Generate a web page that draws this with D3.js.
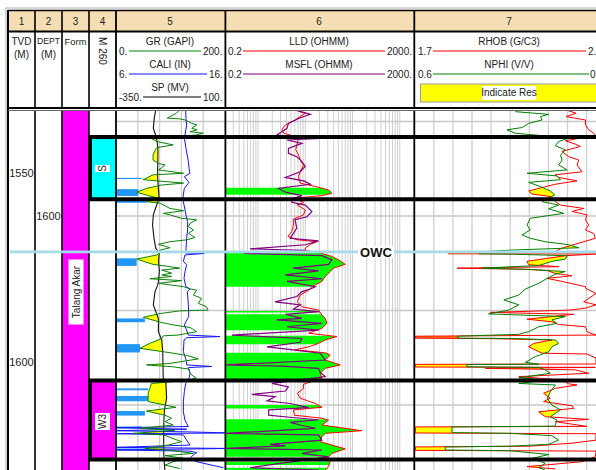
<!DOCTYPE html>
<html><head><meta charset="utf-8">
<script src="https://cdn.jsdelivr.net/npm/d3@7/dist/d3.min.js"></script>
<style>html,body{margin:0;padding:0;background:#fff}svg{display:block}text{font-family:"Liberation Sans",Arial,sans-serif;fill:#222}</style>
</head><body><svg id="c" width="596" height="470"></svg>
<script>
const tvdTicks=[1550,1600], deptTicks=[1600], tvdOffset=38.6;
const zoneNames=["S","W3"], zoneTops=[1579.1,1643.5], zoneBases=[1595.6,1664.4];
const owcDepth=1609.5;
const grDepth=[1571.9,1572.8,1574.1,1574.3,1574.6,1575.5,1575.9,1576.8,1577.2,1577.7,1578.1,1578.6,1579.4,1580.3,1581.2,1581.9,1582.5,1583.9,1585.2,1586.1,1586.5,1587.2,1587.8,1588.7,1589.1,1590.4,1590.7,1591.3,1591.8,1592.7,1593.7,1594.6,1595.3,1596.2,1596.6,1598,1598.6,1599.3,1599.7,1600.6,1601,1601.9,1602.8,1603.7,1604.6,1605.7,1606.3,1606.8,1607.5,1608.4,1609,1609.9,1610.3,1611.4,1612.8,1613.4,1613.8,1614.3,1615.1,1615.6,1616,1616.6,1617.1,1617.8,1618.7,1619.3,1619.6,1620.9,1621.8,1623.1,1624,1624.9,1625.1,1625.8,1626.8,1628.1,1628.8,1629.5,1630.6,1631.5,1631.7,1632.4,1633.7,1635,1636.3,1636.9,1637.8,1639,1639.4,1639.9,1640.5,1641.4,1642.1,1642.8,1643.4,1644.3,1645.6,1646.9,1649.1,1650,1650.6,1651.6,1652.7,1653.5,1654.4,1655.3,1656.2,1656.7,1657.5,1657.9,1659.7,1660.6,1661.5,1661.9,1662.8,1663.4,1664.1,1665,1665.9,1666.8];
const grValue=[117,111,94,117,127,139,148,139,149,136,160,147,64,75,105,75,72,68,68,78,90,84,78,124,68,50,75,124,84,56,38,59,78,56,81,99,124,87,99,120,148,136,133,142,133,145,130,99,78,99,81,78,75,38,68,99,117,84,102,84,102,62,120,78,124,136,148,142,157,151,166,169,117,81,50,81,105,136,148,114,87,84,62,44,105,130,151,99,56,105,133,136,139,147,136,65,62,59,59,90,110,56,90,102,90,105,44,108,32,87,120,96,53,93,142,90,124,105,90,117];
const caliDepth=[1571.9,1574.1,1575.9,1578.6,1579.4,1582.1,1585.6,1587.4,1588.7,1589.6,1591.1,1592.7,1594.9,1596.2,1599.7,1601.5,1603.7,1605.9,1609,1609.8,1609.9,1610.3,1612,1612.9,1614.7,1616.5,1618.7,1619.3,1620,1623.5,1626.6,1628.8,1630.2,1631.5,1631.9,1632.2,1632.8,1635.9,1638.5,1639.4,1639.8,1640.1,1641.6,1642.9,1644.3,1646.5,1649.1,1651.8,1654,1654.9,1655.7,1656,1656.4,1656.8,1657.1,1657.4,1657.6,1657.9,1659.3,1660.6,1661.2,1661.5,1661.9,1662.2,1662.6,1663.2,1664.1,1665,1666.6];
const caliValue=[12.39,12.42,12.48,12.33,12.27,12.42,12.64,12.7,12.79,12.27,12.7,12.27,12.15,12.18,12.42,12.57,12.57,12.48,12.42,12.42,14.1,12.33,12.18,12.48,12.33,12.24,12.42,12.79,12.54,12.64,12.67,12.27,12.48,12.64,15.54,12.48,12.24,12.18,12.48,12.48,14.78,12.64,12.79,12.7,12.39,12.27,12.18,12.18,12.33,12.48,12.64,6.06,12.48,6.06,12.48,16.46,6.06,12.18,12.48,12.79,6.06,16.46,6.06,12.79,13.4,13.09,12.79,13.4,15.85];
const spDepth=[1571.9,1574.1,1576.8,1578.1,1579.4,1582.1,1584.7,1587.4,1589.6,1592.7,1595.3,1597.1,1599.7,1602.4,1605.9,1608.5,1609.9,1612,1614.7,1617.3,1618.3,1620,1623.5,1627.1,1630.6,1632.8,1635.9,1639.4,1642.9,1644.3,1648.2,1650.9,1653.5,1657.1,1661.5,1664.4,1667.2];
const spValue=[-186,-192,-196,-189,-182,-177,-177,-178,-178,-175,-172,-182,-196,-199,-193,-186,-172,-174,-171,-175,-178,-189,-196,-175,-175,-161,-157,-156,-155,-144,-141,-149,-152,-153,-153,-152,-148];
const lldDepth=[1572.2,1572.8,1573.7,1574.6,1575.9,1577.2,1578.1,1578.6,1579.4,1581.2,1582.5,1583.9,1585.2,1586.5,1588.3,1589.6,1591.3,1592.2,1593.1,1594,1594.6,1595.3,1596.4,1597.1,1598.4,1599.7,1600.8,1602.4,1604.1,1605.4,1606.3,1606.8,1607.5,1608.5,1609.1,1609.9,1610.7,1611.6,1612.8,1613.8,1614.7,1616,1617.3,1618.7,1619.6,1620.9,1622.7,1624,1624.9,1626.2,1627.1,1628.4,1629.7,1631,1631.9,1632.8,1633.7,1634.6,1635.4,1636.2,1636.8,1638.1,1639.4,1640.3,1641.6,1642.9,1644.5,1645.6,1646.9,1648.2,1649.6,1650.6,1651.3,1652.7,1653.5,1654,1655.3,1656.8,1657.5,1658.4,1659.7,1660.6,1661.6,1662.8,1663.8,1665,1666.3,1667.2];
const lldValue=[6.8,10,7.8,6.1,3.8,3.2,3.5,4.8,7.2,6.6,6.3,7.2,7.8,9.2,7.8,7.2,7.8,16.3,31,36.5,22.5,6.1,9.2,6.8,10,9.2,5.6,5.6,5.2,4.3,6.8,17.6,12.8,10,10,22.5,36.5,50.6,70,39.6,33.7,26.5,22.5,13.8,11.8,7.8,6.8,8.5,19.1,22.5,26.5,28.7,22.5,11.8,46.6,26.5,19.1,11.8,6.1,26.5,33.7,26.5,55,26.5,20.7,22.5,9.2,9.2,6.8,7.8,16.3,22.5,5.6,5.9,22.5,31,22.5,157,26.5,22.5,20.7,36.5,70,36.5,31,33.7,31,26.5];
const msflDepth=[1572.2,1573.1,1574,1575.5,1576.8,1577.7,1578.6,1579.4,1579.9,1580.8,1582.1,1583.4,1584.3,1585.6,1586.9,1588.3,1589.8,1590.7,1591.6,1592.7,1593.7,1594.6,1595.3,1596.4,1597.1,1598.8,1600.2,1601,1603.2,1604.6,1605.9,1606.6,1607.6,1608.7,1609.1,1609.9,1610.5,1611.6,1612.8,1613.8,1614.5,1615.6,1616.6,1617.3,1618.7,1619.3,1620,1621.3,1622.7,1623.5,1624.6,1625.3,1626,1627.1,1627.5,1628.4,1629.3,1630.2,1631.5,1632.4,1633.4,1634.6,1635.4,1636.3,1638.1,1639.4,1639.7,1640.3,1641.4,1642.5,1642.9,1644.3,1645.2,1646.3,1647.2,1647.8,1648.9,1649.6,1650.7,1651.3,1652.7,1653.3,1653.9,1654.6,1655.3,1656.2,1657.5,1657.9,1659.3,1660.4,1660.8,1661.5,1661.9,1662.8,1663.7,1665.4,1666.6,1667.2];
const msflValue=[7.2,12.8,7.8,4.4,4.1,3.2,2.5,26.5,4.1,8.5,4.4,4.4,6.6,8.5,10,7.8,3.8,9.2,12.8,2.7,3.8,8.5,5.6,5.2,10,13.8,10.9,6.1,6.6,5.6,4.8,19.1,10,0.68,10,0.5,22.5,36.5,31,5.6,19.1,3.8,22.5,4.1,16.3,12.8,8.5,6.6,2.3,7.8,5.6,19.1,3.8,8.5,2.5,22.5,4.1,19.1,0.28,8.5,7.8,1.55,5.6,20.7,26.5,0.21,3.2,19.1,20.7,26.5,15,1.97,4.4,3.8,0.74,2.3,1.55,4.8,11.8,1.68,1.68,5.2,19.1,4.8,7.8,16.3,0.21,19.1,22.5,1.8,3.8,0.21,22.5,8.5,31,3.2,0.68,19.1];
const rhobDepth=[1572.2,1572.8,1573.7,1574.6,1575.9,1577.2,1578.1,1579,1579.4,1580.1,1581,1581.6,1582.9,1584.3,1585.2,1586.5,1588.3,1589.1,1589.8,1590.7,1591.6,1592.7,1593.4,1594.2,1594.9,1596.2,1597.1,1598,1598.8,1599.7,1601,1602.4,1603.7,1604.6,1605.9,1608.5,1609.4,1609.6,1610,1610.05,1610.5,1611.4,1612,1612.9,1613.4,1613.8,1614.1,1614.4,1615.2,1615.8,1616.5,1617.3,1618.7,1619.1,1620.5,1622.7,1623.5,1624.4,1624.9,1625.5,1626,1626.6,1627.3,1628,1628.7,1629.3,1630.6,1631.5,1631.8,1632.3,1632.45,1632.8,1633.7,1634.6,1636.3,1636.5,1637.6,1639.15,1639.25,1639.95,1640.05,1640.3,1640.7,1641.6,1642.5,1643.4,1644.4,1644.7,1645.6,1646.9,1648.2,1649.1,1650.2,1650.9,1651.8,1653.1,1653.8,1654.4,1655.65,1655.8,1657.4,1657.6,1658.1,1659.3,1660.1,1660.9,1661.1,1662,1662.2,1662.6,1663.7,1665,1666.3,1666.9];
const rhobValue=[2.506,2.545,2.492,2.594,2.594,2.611,2.637,2.649,2.567,2.489,2.541,2.567,2.471,2.506,2.559,2.55,2.576,2.436,2.454,2.55,2.436,2.349,2.297,2.314,2.419,2.436,2.463,2.585,2.524,2.602,2.594,2.611,2.594,2.637,2.646,2.471,2.436,1.875,1.875,2.649,2.489,2.367,2.288,2.297,2.454,1.922,2.279,2.393,2.436,2.524,2.393,2.471,2.594,2.594,2.649,2.585,2.649,2.594,2.506,2.096,2.532,2.419,2.288,2.419,2.454,2.594,2.602,2.649,1.703,1.703,2.114,2.419,2.323,2.297,2.367,2.602,2.649,2.649,1.703,1.703,2.646,2.07,2.541,2.611,2.245,2.471,2.506,2.55,2.436,2.375,2.41,2.375,2.524,2.532,2.349,2.384,2.611,2.436,2.6,1.703,1.703,2.649,2.649,2.649,2.524,2.3,1.703,1.703,2.649,2.649,2.646,2.576,2.288,2.436];
const nphiDepth=[1572.4,1573.1,1573.7,1574.6,1575.5,1576.6,1577.2,1578.1,1579.4,1580.3,1581.4,1582.5,1583.9,1585.2,1586.5,1587.8,1588.7,1589.4,1590.4,1591.1,1592.2,1593.4,1594.4,1596.2,1597.1,1598.1,1599.3,1600.6,1602.4,1603.7,1605,1605.9,1606.8,1607.6,1608.4,1609,1609.5,1610,1610.1,1610.5,1611.4,1612,1613.1,1613.8,1614.1,1614.7,1615.4,1616.5,1617.8,1619.3,1620.9,1622.2,1623.5,1624.9,1625.9,1626.6,1627.5,1628.4,1629.3,1630.6,1631.3,1631.8,1632.3,1632.4,1632.8,1633.7,1634.6,1635.9,1637.2,1638.7,1639.2,1639.3,1639.9,1640.05,1640.7,1641.6,1642.8,1643.4,1644.3,1644.7,1646.5,1648.2,1650,1651.3,1653.1,1654,1655.6,1655.8,1657.3,1657.5,1658.1,1659.3,1660.4,1660.9,1661.1,1661.9,1662.1,1663.1,1664.1,1665.4,1666.6,1667.2];
const nphiValue=[0.284,0.179,0.205,0.2,0.242,0.263,0.31,0.284,0.116,0.148,0.158,0.127,0.142,0.137,0.148,0.121,0.247,0.153,0.142,0.242,0.205,0.174,0.16,0.2,0.148,0.179,0.132,0.237,0.247,0.237,0.263,0.237,0.19,0.116,0.085,0.294,0.399,0.399,0.294,0.121,0.127,0.169,0.21,0.388,0.247,0.127,0.158,0.184,0.21,0.252,0.273,0.32,0.273,0.305,0.368,0.127,0.169,0.153,0.21,0.242,0.273,0.465,0.465,0.294,0.158,0.148,0.169,0.179,0.221,0.252,0.21,0.436,0.436,0.21,0.19,0.174,0.273,0.19,0.273,0.158,0.174,0.184,0.169,0.142,0.174,0.153,0.16,0.483,0.483,0.3,0.169,0.148,0.179,0.3,0.504,0.504,0.3,0.179,0.231,0.19,0.21,0.19];
const mixTop=[1631.8], mixBase=[1632.3], mixRhob=[1.93];
const resTop=[1592.5,1609.7,1625.1,1626,1631.7,1636.2,1650,1653.8,1665,1666.6];
const resBase=[1594.4,1618.7,1625.5,1630.2,1633.9,1643.1,1650.9,1663.7,1665.9,1667.2];
const blockTop=[1589.9,1592.9,1595.9,1611.2,1627.1,1633.9,1645.6,1647.6,1651.6,1655.7,1661.5];
const blockBase=[1590.2,1594.7,1596.5,1613.2,1628.1,1636.1,1646.1,1649,1652.8,1656.2,1661.9];
const blockGr=[47,41,56,38,53,44,59,59,53,47,53];

const svg=d3.select("#c");
const y=d3.scaleLinear().domain([1600,1625]).range([216,310.5]);
const T={a:116,b:225,c:414.7,d:605.7}, yTop=111, yBot=470;
const xGR=d3.scaleLinear([0,200],[T.a,T.b]), xCali=d3.scaleLinear([6,16],[T.a,T.b]), xSP=d3.scaleLinear([-350,100],[T.a,T.b]);
const xRes=d3.scaleLog([0.2,2000],[T.b,T.c-0.7]);
const xRhob=d3.scaleLinear([1.7,2.7],[T.c,T.d]), xNphi=d3.scaleLinear([0.6,0],[T.c,T.d]);
const defs=svg.append("defs");
[["t5",T.a,T.b],["t6",T.b,T.c],["t7",T.c,T.d]].forEach(([id,a,b])=>defs.append("clipPath").attr("id",id).append("rect").attr("x",a).attr("y",yTop).attr("width",b-a).attr("height",yBot-yTop));
defs.append("clipPath").attr("id","res").selectAll("rect").data(resTop).join("rect").attr("x",T.b).attr("width",T.c-T.b).attr("y",d=>y(d)).attr("height",(d,i)=>y(resBase[i])-y(d));

svg.append("rect").attr("width",596).attr("height",470).attr("fill","#fff");
// frame
svg.append("rect").attr("x",8).attr("y",10).attr("width",600).attr("height",21).attr("fill","#f5deb3");
svg.append("path").attr("d",d3.line()([[6,470],[6,8],[596,8]])).attr("fill","none").attr("stroke","#c8c8c8").attr("stroke-width",1.5);
// grids
const g=svg.append("g");
const vgrid=(vals,w)=>g.append("g").selectAll("line").data(vals).join("line").attr("x1",d=>d).attr("x2",d=>d).attr("y1",yTop).attr("y2",yBot).attr("stroke","#cfcfcf").attr("stroke-width",w);
vgrid(d3.range(1,5).map(i=>xGR(i*40)),1.3);
const logVals=[];[0.1,1,10,100,1000].forEach(k=>[1,2,3,4,5,6,7,8,9].forEach(m=>{const v=k*m;if(v>0.2&&v<2000)logVals.push(v)}));
vgrid(logVals.map(v=>xRes(v)),1);
vgrid(d3.range(1,10).map(i=>xRhob(1.7+i/10)),1.3);
g.append("g").selectAll("line").data(d3.range(1575,1675,25)).join("line").attr("x1",T.a).attr("x2",596).attr("y1",d=>y(d)).attr("y2",d=>y(d)).attr("stroke","#c8c8c8").attr("stroke-width",1.3);

// fills
const at=(ds,vs,d)=>{const i=d3.bisectLeft(ds,d);if(i<=0)return vs[0];if(i>=ds.length)return vs[vs.length-1];const t=(d-ds[i-1])/(ds[i]-ds[i-1]);return vs[i-1]+(vs[i]-vs[i-1])*t};
const at2=(ds,vs,d)=>{const i=d3.bisectLeft(ds,d);if(i<=0)return vs[0];if(i>=ds.length)return vs[vs.length-1];const t=(d-ds[i-1])/(ds[i]-ds[i-1]);return Math.pow(10,Math.log10(vs[i-1])+(Math.log10(vs[i])-Math.log10(vs[i-1]))*t)};
const grid=d3.range(1572,1667.3,0.05);
const t5=svg.append("g").attr("clip-path","url(#t5)"), t6=svg.append("g").attr("clip-path","url(#t6)"), t7=svg.append("g").attr("clip-path","url(#t7)");
t5.selectAll("rect").data(blockTop).join("rect").attr("x",T.a).attr("y",d=>y(d)).attr("height",(d,i)=>y(blockBase[i])-y(d)).attr("width",(d,i)=>xGR(blockGr[i])-T.a).attr("fill","#2196f3");
t5.append("path").attr("fill","#ffff00").attr("d",d3.area().defined(d=>xGR(at(grDepth,grValue,d))<xSP(at(spDepth,spValue,d))).y(d=>y(d)).x0(d=>xGR(at(grDepth,grValue,d))).x1(d=>xSP(at(spDepth,spValue,d)))(grid));
t6.append("g").attr("clip-path","url(#res)").append("path").attr("fill","#00ff00").attr("d",d3.area().y(d=>y(d)).x0(T.b).x1(d=>xRes(at2(lldDepth,lldValue,d)))(grid));
t7.append("path").attr("fill","#ffff00").attr("d",d3.area().defined(d=>xRhob(at(rhobDepth,rhobValue,d))<xNphi(at(nphiDepth,nphiValue,d))).y(d=>y(d)).x0(d=>xRhob(at(rhobDepth,rhobValue,d))).x1(d=>xNphi(at(nphiDepth,nphiValue,d)))(grid));
t7.selectAll("rect").data(mixTop).join("rect").attr("x",T.c).attr("y",d=>y(d)).attr("height",(d,i)=>y(mixBase[i])-y(d)).attr("width",(d,i)=>xRhob(mixRhob[i])-T.c).attr("fill","#ff7010");

// curves
const curve=(gp,ds,vs,sc,col,w)=>gp.append("path").attr("fill","none").attr("stroke",col).attr("stroke-width",w||1).attr("d",d3.line().x(d=>sc(d[1])).y(d=>y(d[0]))(ds.map((d,i)=>[d,vs[i]])));
curve(t5,spDepth,spValue,xSP,"#111",1.1);
curve(t5,caliDepth,caliValue,xCali,"#1414ff",1);
curve(t5,grDepth,grValue,xGR,"#0a800a",1);
curve(t6,lldDepth,lldValue,xRes,"#ff0000",1);
curve(t6,msflDepth,msflValue,xRes,"#800080",1.2);
curve(t7,rhobDepth,rhobValue,xRhob,"#ff0000",1);
curve(t7,nphiDepth,nphiValue,xNphi,"#008000",1);

// formation / zones
svg.append("rect").attr("x",62).attr("y",yTop).attr("width",27).attr("height",yBot-yTop).attr("fill","#ff00ff");
const zoneCols=["#00ffff","#ff00ff"];
svg.append("g").selectAll("rect").data(zoneNames).join("rect").attr("x",90).attr("width",26).attr("y",(d,i)=>y(zoneTops[i])).attr("height",(d,i)=>y(zoneBases[i])-y(zoneTops[i])).attr("fill",(d,i)=>zoneCols[i]);

// column lines
const vl=svg.append("g").attr("stroke","#000");
[[8,2],[35,1.6],[62,1.6],[89,1.6],[116,1.8],[225.4,1.8],[414.3,1.8]].forEach(([x,w])=>vl.append("line").attr("x1",x).attr("x2",x).attr("y1",10).attr("y2",470).attr("stroke-width",w));
[[10.5,1.6],[31.5,2],[108,2]].forEach(([yy,w])=>vl.append("line").attr("x1",8).attr("x2",596).attr("y1",yy).attr("y2",yy).attr("stroke-width",w));
svg.append("rect").attr("x",9).attr("y",109).attr("width",590).attr("height",2).attr("fill","#fff");
svg.append("line").attr("x1",8).attr("x2",596).attr("y1",110.5).attr("y2",110.5).attr("stroke","#666").attr("stroke-width",1);

// zone borders
const zl=svg.append("g").attr("stroke","#000").attr("stroke-width",4);
zoneTops.concat(zoneBases).forEach(d=>zl.append("line").attr("x1",88).attr("x2",596).attr("y1",y(d)).attr("y2",y(d)));
zoneNames.forEach((n,i)=>zl.append("line").attr("x1",90).attr("x2",90).attr("y1",y(zoneTops[i])).attr("y2",y(zoneBases[i])));

// OWC
svg.append("line").attr("x1",10).attr("x2",596).attr("y1",y(owcDepth)).attr("y2",y(owcDepth)).attr("stroke","#a3dbe8").attr("stroke-width",2.6);
svg.append("rect").attr("x",358).attr("y",y(owcDepth)-6).attr("width",36).attr("height",12).attr("fill","#fff");
const txt=(x,yy,s,o={})=>{const t=svg.append("text").attr("x",x).attr("y",yy).attr("font-size",o.fs||10).attr("text-anchor",o.a||"middle").attr("dominant-baseline","central").text(s);if(o.fw)t.attr("font-weight",o.fw);if(o.r!=null)t.attr("transform",`rotate(${o.r} ${x} ${yy})`);return t};
txt(376,y(owcDepth)+0.5,"OWC",{fs:13,fw:"bold"}).style("fill","#111");

// header
[[21.5,"1"],[48.5,"2"],[75.5,"3"],[102.5,"4"],[170,"5"],[319,"6"],[509,"7"]].forEach(([x,s])=>txt(x,21.5,s,{fs:10}));
txt(21.5,41,"TVD");txt(21.5,54,"(M)");txt(48.5,41,"DEPT",{fs:8.6});txt(48.5,54,"(M)");txt(75.5,41,"Form",{fs:9.4});
txt(102,51,"M 260",{r:90});
const hdr=[[170,41,"GR (GAPI)"],[170,64,"CALI (IN)"],[170,87,"SP (MV)"],[319,41,"LLD (OHMM)"],[319,64,"MSFL (OHMM)"],[509,41,"RHOB (G/C3)"],[509,64,"NPHI (V/V)"]];
hdr.forEach(([x,yy,s])=>txt(x,yy,s));
const scaleRows=[[119,51,"0.",129,201,"200.",203,"#0a800a"],[119,74,"6.",129,207,"16.",209,"#1414ff"],[119,97,"-350.",143,201,"100.",203,"#000"],[228,51,"0.2",243,385,"2000.",387,"#ff0000"],[228,74,"0.2",243,385,"2000.",387,"#800080"],[418,51,"1.7",433,586,"2.",588,"#ff0000"],[418,74,"0.6",433,589,"0",590,"#008000"]];
scaleRows.forEach(([x,yy,a,l,r,b,xb,c])=>{txt(x,yy,a,{a:"start"});txt(xb,yy,b,{a:"start"});svg.append("line").attr("x1",l).attr("x2",r).attr("y1",yy).attr("y2",yy).attr("stroke",c).attr("stroke-width",1)});
svg.append("rect").attr("x",420.5).attr("y",84).attr("width",180).attr("height",18).attr("fill","#ffff00").attr("stroke","#999").attr("stroke-width",1);
svg.append("rect").attr("x",482).attr("y",86).attr("width",54).attr("height",14).attr("fill","#fff");
txt(509,92.5,"Indicate Res");

// depth ticks
tvdTicks.forEach(t=>txt(21.5,y(t+tvdOffset),String(t),{fs:11}));
deptTicks.forEach(t=>txt(48.5,y(t),String(t),{fs:11}));
// rotated labels
const box=(cx,cy,w,h)=>svg.append("rect").attr("x",cx-w/2).attr("y",cy-h/2).attr("width",w).attr("height",h).attr("fill","#fff");
box(76,292,15,65);txt(76,292,"Talang Akar",{r:-90});
box(102.5,168.5,15,7);txt(102.5,168.5,"S",{r:-90});
box(102.5,421.5,15,17);txt(102.5,421.5,"W3",{r:-90});
</script></body></html>
